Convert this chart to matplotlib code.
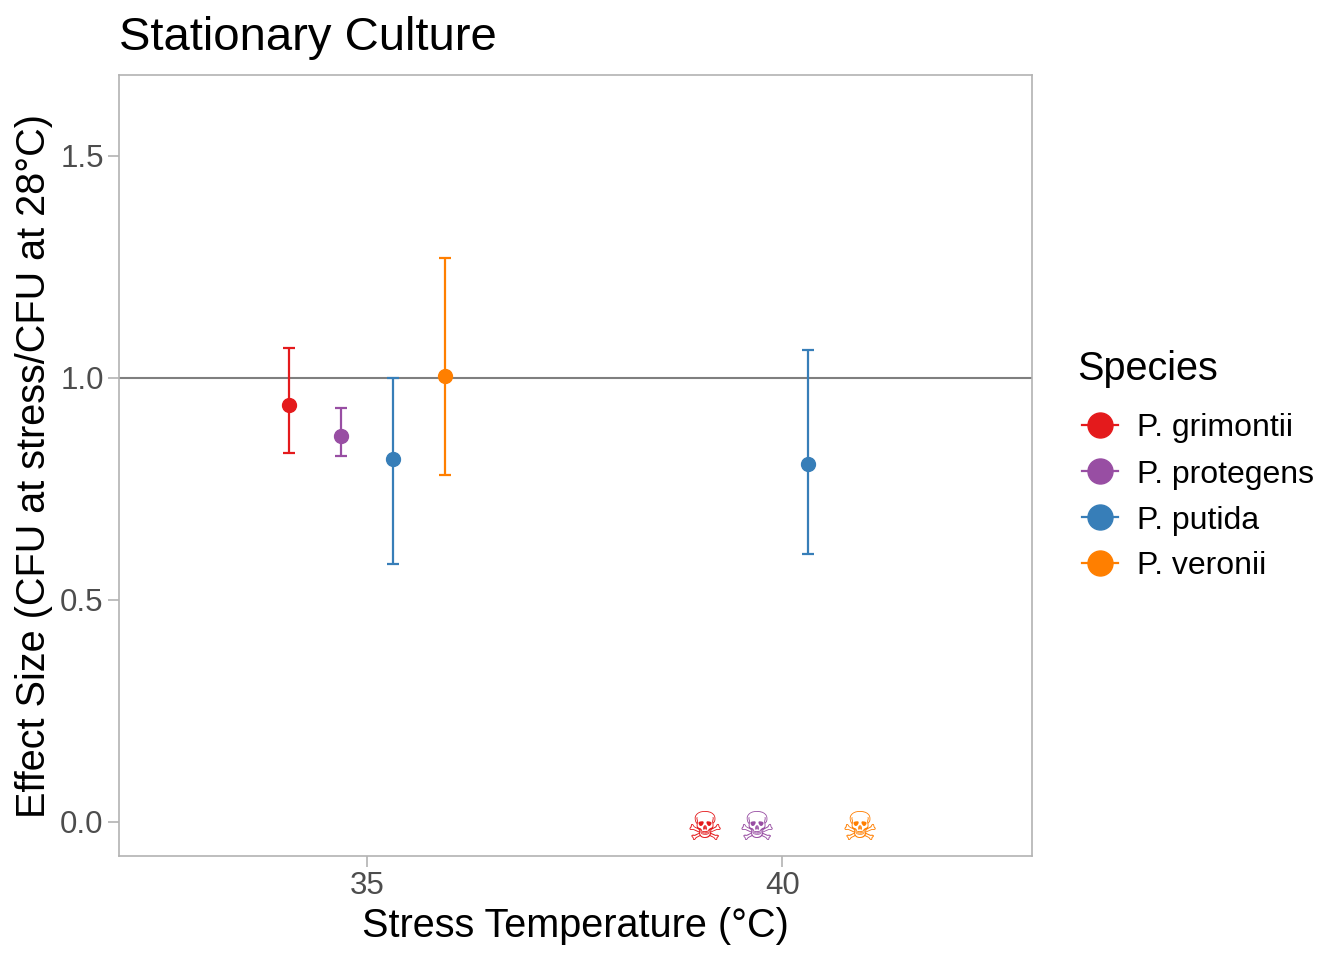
import matplotlib
matplotlib.use("Agg")
import matplotlib.pyplot as plt
from matplotlib.lines import Line2D
import numpy as np

plt.rcParams['font.family'] = ['Liberation Sans', 'DejaVu Sans']

species = ["P. grimontii", "P. protegens", "P. putida", "P. veronii"]
colors = ["#E41A1C", "#984EA3", "#377EB8", "#FF7F00"]
temps = [35, 40]
# effect size means and error limits (None = no survivors -> skull)
mean = {35: [0.940, 0.869, 0.818, 1.004], 40: [None, None, 0.806, None]}
lower = {35: [0.831, 0.824, 0.581, 0.782], 40: [None, None, 0.604, None]}
upper = {35: [1.068, 0.932, 1.000, 1.270], 40: [None, None, 1.063, None]}
skull_y = -0.015

dodge = 2.5
n = len(species)
offsets = [(-dodge / 2 + dodge / n * (i + 0.5)) for i in range(n)]

W, H = 1344, 960
fig = plt.figure(figsize=(W / 100, H / 100), dpi=100)
ax = fig.add_axes([119 / W, 1 - 856 / H, (1032 - 119) / W, (856 - 75) / H])

ax.axhline(1.0, color="#7F7F7F", lw=1.5, zorder=1)

for t in temps:
    for i, sp in enumerate(species):
        x = t + offsets[i]
        m = mean[t][i]
        if m is None:
            ax.text(x, skull_y, "\u2620", color=colors[i], fontsize=29,
                    ha="center", va="center", family="DejaVu Sans", zorder=3)
        else:
            ax.errorbar(x, m, yerr=[[m - lower[t][i]], [upper[t][i] - m]],
                        fmt="o", color=colors[i], ms=10, elinewidth=1.6,
                        capsize=4, capthick=1.6, zorder=3)

ax.set_xlim(32.01, 43.01)
ax.set_ylim(-0.0766, 1.682)
ax.set_xticks([35, 40])
ax.set_yticks([0.0, 0.5, 1.0, 1.5])
ax.set_yticklabels(["0.0", "0.5", "1.0", "1.5"])
for s in ax.spines.values():
    s.set_color("#B3B3B3")
    s.set_linewidth(1.2)
ax.tick_params(axis="both", colors="#B3B3B3", length=8, width=1.2,
               labelcolor="#4D4D4D", labelsize=22.5, pad=3)
ax.set_xlabel("Stress Temperature (\u00b0C)", fontsize=28.5, labelpad=4)
ax.set_ylabel("Effect Size (CFU at stress/CFU at 28\u00b0C)", fontsize=28.5, labelpad=5)
ax.set_title("Stationary Culture", fontsize=34, loc="left", pad=18)

# legend drawn in figure pixel coordinates
fig.text(1077 / W, 1 - 369 / H, "Species", fontsize=28.5, ha="left", va="center")
entry_y = [425, 471, 517, 563]
for c, sp, yy in zip(colors, species, entry_y):
    fy = 1 - yy / H
    fig.add_artist(Line2D([1082 / W, 1118 / W], [fy, fy], color=c, lw=1.6,
                          transform=fig.transFigure))
    fig.add_artist(Line2D([1100 / W], [fy], color=c, marker="o", ms=18, lw=0,
                          transform=fig.transFigure))
    fig.text(1137 / W, fy, sp, fontsize=23, ha="left", va="center_baseline")

fig.savefig("out.png", dpi=100)
